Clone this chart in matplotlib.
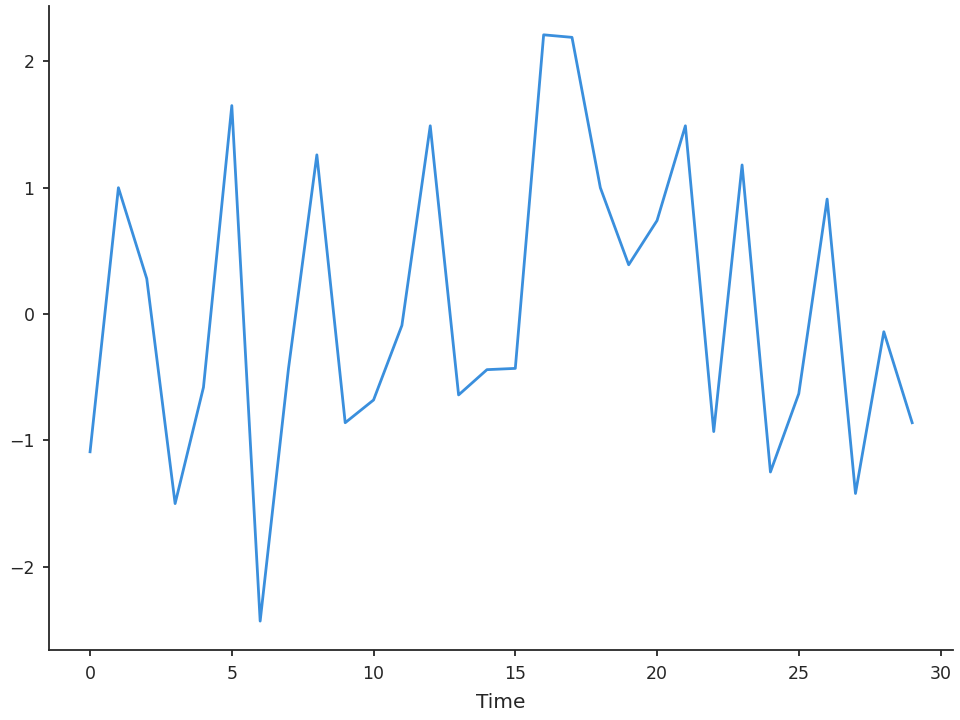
import matplotlib
matplotlib.use("Agg")
import matplotlib.pyplot as plt
import numpy as np

# values
time = np.arange(30)
values = [-1.09, 1.00, 0.28, -1.50, -0.58, 1.65, -2.43, -0.43, 1.26, -0.86,
          -0.68, -0.09, 1.49, -0.64, -0.44, -0.43, 2.21, 2.19, 1.00, 0.39,
          0.74, 1.49, -0.93, 1.18, -1.25, -0.63, 0.91, -1.42, -0.14, -0.86]

ink = "#262626"
plt.rcParams["text.color"] = ink
plt.rcParams["axes.labelcolor"] = ink
plt.rcParams["axes.edgecolor"] = ink
plt.rcParams["xtick.color"] = ink
plt.rcParams["ytick.color"] = ink

fig = plt.figure(figsize=(9.6, 7.2), dpi=100)
ax = fig.add_axes([0.051, 0.097, 0.942, 0.895])

ax.plot(time, values, color="#3a8fdd", linewidth=2.0)

ax.spines["top"].set_visible(False)
ax.spines["right"].set_visible(False)
ax.spines["left"].set_linewidth(1.3)
ax.spines["bottom"].set_linewidth(1.3)
ax.set_xlabel("Time", fontsize=14.5, labelpad=7.5)
ax.tick_params(labelsize=12.5, length=4.5, width=1.3, pad=6)
ax.set_xticks([0, 5, 10, 15, 20, 25, 30])
ax.set_yticks([-2, -1, 0, 1, 2])
ax.set_xlim(-1.45, 30.45)
ax.set_ylim(-2.66, 2.44)

fig.savefig("out.png", dpi=100)
